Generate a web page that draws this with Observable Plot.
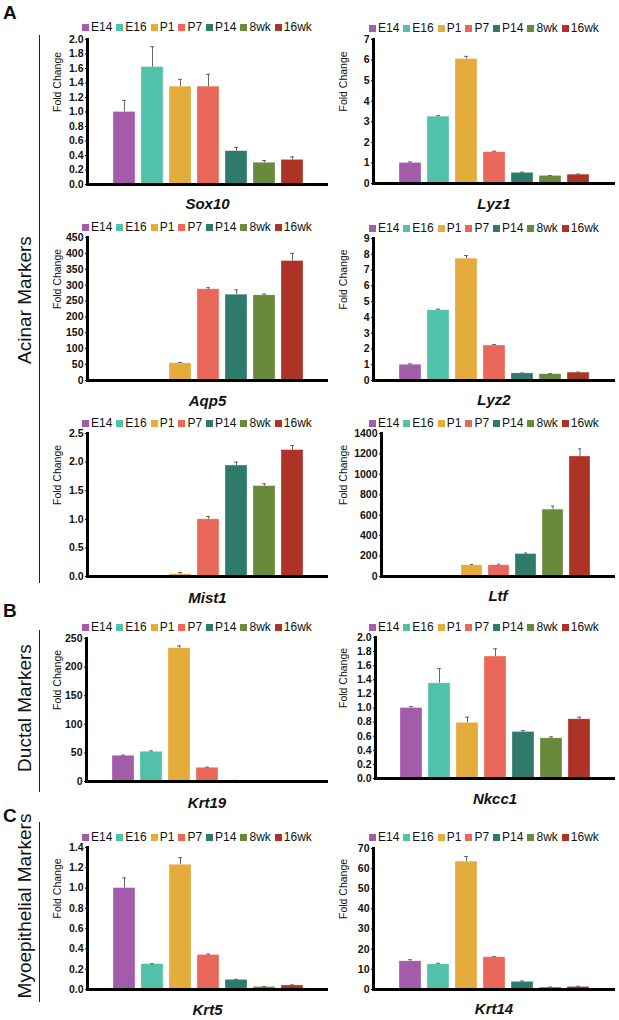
<!DOCTYPE html>
<html><head><meta charset="utf-8">
<script src="https://cdn.jsdelivr.net/npm/d3@7"></script>
<script src="https://cdn.jsdelivr.net/npm/@observablehq/plot@0.6"></script>
<style>
body{margin:0;background:#fff;}
#fig{position:relative;width:619px;height:1020px;font-family:"Liberation Sans",Arial,sans-serif;overflow:hidden;color:#111;}
#fig svg{position:absolute;overflow:visible;}
.legend{position:absolute;display:flex;align-items:center;font-size:12px;white-space:nowrap;line-height:1;transform:translateY(-50%);}
.legend .it{display:flex;align-items:center;margin-right:4px;}
.legend .sw{width:7px;height:7px;margin-right:2px;}
.title{position:absolute;font-weight:bold;font-style:italic;font-size:15px;transform:translate(-50%,-50%);white-space:nowrap;}
.group{position:absolute;font-size:19px;transform:translate(-50%,-50%) rotate(-90deg);white-space:nowrap;}
.bracket{position:absolute;width:1px;background:#222;}
.plab{position:absolute;font-weight:bold;font-size:19px;line-height:1;}
</style></head><body><div id="fig"></div>
<script>
// ---- data ----
const stages = ["E14","E16","P1","P7","P14","8wk","16wk"];
const stageColors = ["#a25ca9","#52c1a9","#e3ac3d","#e9685a","#2e7b6b","#6a8a3b","#ae3327"];
const genes = ["Sox10","Lyz1","Aqp5","Lyz2","Mist1","Ltf","Krt19","Nkcc1","Krt5","Krt14"];
const sox10 = [1.00,1.62,1.35,1.35,0.46,0.30,0.34];
const sox10Err = [0.16,0.28,0.10,0.17,0.05,0.03,0.04];
const lyz1 = [1.00,3.25,6.05,1.52,0.52,0.37,0.43];
const lyz1Err = [0.05,0.05,0.13,0.05,0.03,0.02,0.03];
const aqp5 = [1,2,54,287,270,268,376];
const aqp5Err = [0.2,0.5,3,5,15,4,24];
const lyz2 = [1.00,4.45,7.72,2.22,0.45,0.40,0.50];
const lyz2Err = [0.05,0.07,0.20,0.06,0.02,0.03,0.03];
const mist1 = [0.001,0.002,0.04,1.00,1.94,1.58,2.21];
const mist1Err = [0,0,0.03,0.05,0.06,0.04,0.08];
const ltf = [1,1,110,110,220,655,1175];
const ltfErr = [0,0,8,10,10,35,75];
const krt19 = [45,52,233,24,1.5,0.3,0.2];
const krt19Err = [1,1.5,4,1,0.5,0.1,0.1];
const nkcc1 = [1.00,1.35,0.79,1.73,0.66,0.57,0.84];
const nkcc1Err = [0.02,0.21,0.08,0.11,0.02,0.02,0.03];
const krt5 = [1.00,0.25,1.23,0.34,0.095,0.025,0.04];
const krt5Err = [0.10,0.005,0.07,0.01,0.005,0.005,0.005];
const krt14 = [14,12.5,63.5,16,3.8,1.0,1.3];
const krt14Err = [0.8,0.5,2.5,0.3,0.4,0.2,0.3];
const values = [sox10,lyz1,aqp5,lyz2,mist1,ltf,krt19,nkcc1,krt5,krt14];
const errors = [sox10Err,lyz1Err,aqp5Err,lyz2Err,mist1Err,ltfErr,krt19Err,nkcc1Err,krt5Err,krt14Err];
// y-axis: max, step, decimals
const yMax = [2,7,450,9,2.5,1400,250,2,1.4,70];
const yStep = [0.2,1,50,1,0.5,200,50,0.2,0.2,10];
const yDec = [1,0,0,0,1,0,0,1,1,0];
const groupNames = ["Acinar Markers","Ductal Markers","Myoepithelial Markers"];
const panelLetters = ["A","B","C"];
const yLabel = "Fold Change";

// ---- layout (positions only) ----
// col, frame x0, x1, yTop, yBottom, legendY, titleY
const layout = [
  [0, 87, 328, 39, 184, 27, 203],
  [1, 373, 615, 39, 183, 28, 203],
  [0, 87, 328, 237, 380, 227, 400],
  [1, 373, 615, 238, 380, 228, 399],
  [0, 87, 328, 433, 576, 423, 597],
  [1, 381, 615, 433, 576, 423, 595],
  [0, 86, 328, 638, 781, 627, 802],
  [1, 375, 615, 637, 778, 627, 798],
  [0, 87, 328, 847, 989, 837, 1009],
  [1, 373, 615, 848, 989, 837, 1008]
];
const groupLayout = [[25, 300, 35, 583],[25, 708, 630, 792],[25, 906, 822, 1002]];
const letterLayout = [[3, 3],[3, 601],[3, 806]];

const fig = document.getElementById("fig");
const color = d3.scaleOrdinal(stages, stageColors);

genes.forEach((g, i) => {
  const [col, x0, x1, yT, yB, legY, titleY] = layout[i];
  const left = col ? 330 : 0;
  const width = col ? 289 : 330;
  const mt = 10, mb = 8;
  const data = stages.map((s, k) => ({stage: s, value: values[i][k], hi: values[i][k] + errors[i][k]}));
  const ticks = d3.range(0, yMax[i] + yStep[i] / 2, yStep[i]);
  const svg = Plot.plot({
    width, height: (yB - yT) + mt + mb,
    marginLeft: x0 - left, marginRight: left + width - x1, marginTop: mt, marginBottom: mb,
    style: {fontFamily: "'Liberation Sans', Arial, sans-serif", background: "transparent", overflow: "visible"},
    x: {domain: stages, paddingInner: 0.23, paddingOuter: 0.84, axis: null},
    y: {domain: [0, yMax[i]], axis: null},
    color: {domain: stages, range: stageColors},
    marks: [
      Plot.barY(data, {x: "stage", y: "value", fill: "stage", stroke: "#ffffff", strokeOpacity: 0.5, strokeWidth: 0.6}),
      Plot.ruleX(data.filter(d => d.hi > d.value), {x: "stage", y1: "value", y2: "hi", stroke: "#666", strokeWidth: 1}),
      Plot.tickY(data.filter(d => d.hi > d.value), {x: "stage", y: "hi", stroke: "#666", strokeWidth: 1, insetLeft: 9, insetRight: 9}),
      Plot.axisY({ticks, tickFormat: d3.format("." + yDec[i] + "f"), tickSize: 2, tickPadding: 2, fontSize: 10.5, fontWeight: "bold", fill: "#111", label: null}),
      Plot.text([yLabel], {frameAnchor: "left", rotate: -90, dx: -(x0 - (col ? 343 : 57)), fontSize: 10.5, fill: "#111"}),
      Plot.ruleY([0], {stroke: "#000", strokeWidth: 3}),
      Plot.frame({anchor: "left", stroke: "#000", strokeWidth: 3})
    ]
  });
  svg.style.left = left + "px";
  svg.style.top = (yT - mt) + "px";
  fig.appendChild(svg);

  // legend
  const leg = document.createElement("div");
  leg.className = "legend";
  leg.style.left = (col ? 369 : 82) + "px";
  leg.style.top = legY + "px";
  stages.forEach(s => {
    const it = document.createElement("span"); it.className = "it";
    const sw = document.createElement("span"); sw.className = "sw"; sw.style.background = color(s);
    it.appendChild(sw); it.appendChild(document.createTextNode(s));
    leg.appendChild(it);
  });
  fig.appendChild(leg);

  // title
  const t = document.createElement("div");
  t.className = "title"; t.textContent = g;
  t.style.left = ((x0 + x1) / 2) + "px"; t.style.top = titleY + "px";
  fig.appendChild(t);
});

groupNames.forEach((n, j) => {
  const [cx, cy, b0, b1] = groupLayout[j];
  const d = document.createElement("div");
  d.className = "group"; d.textContent = n;
  d.style.left = cx + "px"; d.style.top = cy + "px";
  fig.appendChild(d);
  const b = document.createElement("div");
  b.className = "bracket";
  b.style.left = "39px"; b.style.top = b0 + "px"; b.style.height = (b1 - b0) + "px";
  fig.appendChild(b);
});
panelLetters.forEach((L, j) => {
  const d = document.createElement("div");
  d.className = "plab"; d.textContent = L;
  d.style.left = letterLayout[j][0] + "px"; d.style.top = letterLayout[j][1] + "px";
  fig.appendChild(d);
});
</script></body></html>
